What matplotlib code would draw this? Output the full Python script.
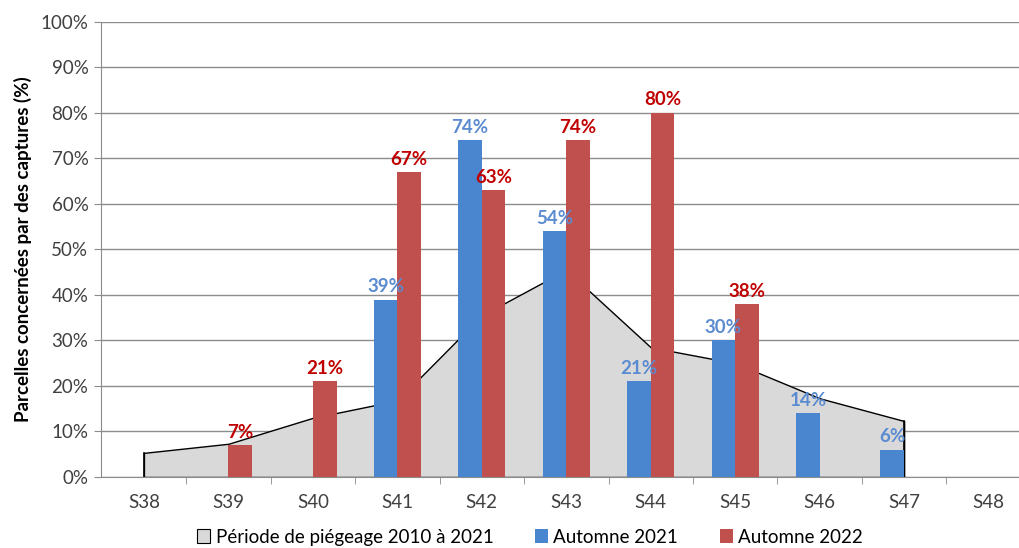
import numpy as np
import matplotlib.pyplot as plt
from matplotlib.patches import Patch

plt.rcParams['font.family'] = ['Lato', 'DejaVu Sans']

weeks = ["S38", "S39", "S40", "S41", "S42", "S43", "S44", "S45", "S46", "S47", "S48"]
# historical period 2010-2021 (area), in %
periode = [5.3, 7.3, 13.0, 16.8, 35.5, 45.5, 28.5, 25.0, 17.3, 12.3]
# autumn captures, in % (None = no bar)
automne_2021 = [None, None, None, 39, 74, 54, 21, 30, 14, 6, None]
automne_2022 = [None, 7, 21, 67, 63, 74, 80, 38, None, None, None]

blue = "#4a86d0"
red = "#c0504d"
blue_txt = "#5b8bd0"
red_txt = "#c00000"

fig = plt.figure(figsize=(10.19, 5.48), dpi=100)
ax = fig.add_axes([0.099, 0.1296, 0.901, 0.8304])

x = np.arange(len(weeks))
bw = 0.28

# area for the reference period
xa = x[:len(periode)]
ax.fill_between(xa, periode, 0, facecolor="#d9d9d9", edgecolor="black",
                linewidth=1.0, zorder=2)
ax.plot([xa[0], xa[0]], [0, periode[0]], color="black", lw=1.2, zorder=2)
ax.plot([xa[-1], xa[-1]], [0, periode[-1]], color="black", lw=1.2, zorder=2)

for i, v in enumerate(automne_2021):
    if v is None:
        continue
    ax.bar(x[i] - bw / 2, v, width=bw, color=blue, zorder=3)
    ax.text(x[i] - bw / 2, v + 1.0, f"{v}%", ha="center", va="bottom",
            color=blue_txt, fontsize=13.5, fontweight="bold", zorder=4)

for i, v in enumerate(automne_2022):
    if v is None:
        continue
    ax.bar(x[i] + bw / 2, v, width=bw, color=red, zorder=3)
    ax.text(x[i] + bw / 2, v + 1.0, f"{v}%", ha="center", va="bottom",
            color=red_txt, fontsize=13.5, fontweight="bold", zorder=4)

ax.set_xlim(-0.51, 10.36)
ax.set_ylim(0, 100)
ax.set_yticks(np.arange(0, 101, 10))
ax.set_yticklabels([f"{t}%" for t in range(0, 101, 10)])
ax.yaxis.grid(True, color="#8c8c8c", linewidth=1.0, zorder=0)
ax.set_axisbelow(True)

ax.set_xticks(x)
ax.set_xticklabels(weeks)
ax.set_xticks(x[:-1] + 0.5, minor=True)
ax.tick_params(axis="x", which="major", length=0, pad=12, labelsize=13.5,
               labelcolor="#404040")
ax.tick_params(axis="x", which="minor", length=5, color="#8c8c8c", direction="out")
ax.tick_params(axis="y", length=5, color="#8c8c8c", labelsize=13.5,
               labelcolor="#404040", pad=4)

for s in ["top", "right"]:
    ax.spines[s].set_visible(False)
for s in ["left", "bottom"]:
    ax.spines[s].set_color("#8c8c8c")

ax.set_ylabel("Parcelles concernées par des captures (%)", fontsize=13.5,
              fontweight="bold", labelpad=6)

handles = [Patch(facecolor="#d9d9d9", edgecolor="black", linewidth=0.8),
           Patch(facecolor=blue), Patch(facecolor=red)]
fig.legend(handles, ["Période de piégeage 2010 à 2021", "Automne 2021", "Automne 2022"],
           loc="center", bbox_to_anchor=(0.52, 0.02), ncol=3, frameon=False,
           fontsize=13.5, handlelength=0.7, handleheight=0.7, handletextpad=0.3,
           columnspacing=2.2)

fig.savefig("out.png", dpi=100)
